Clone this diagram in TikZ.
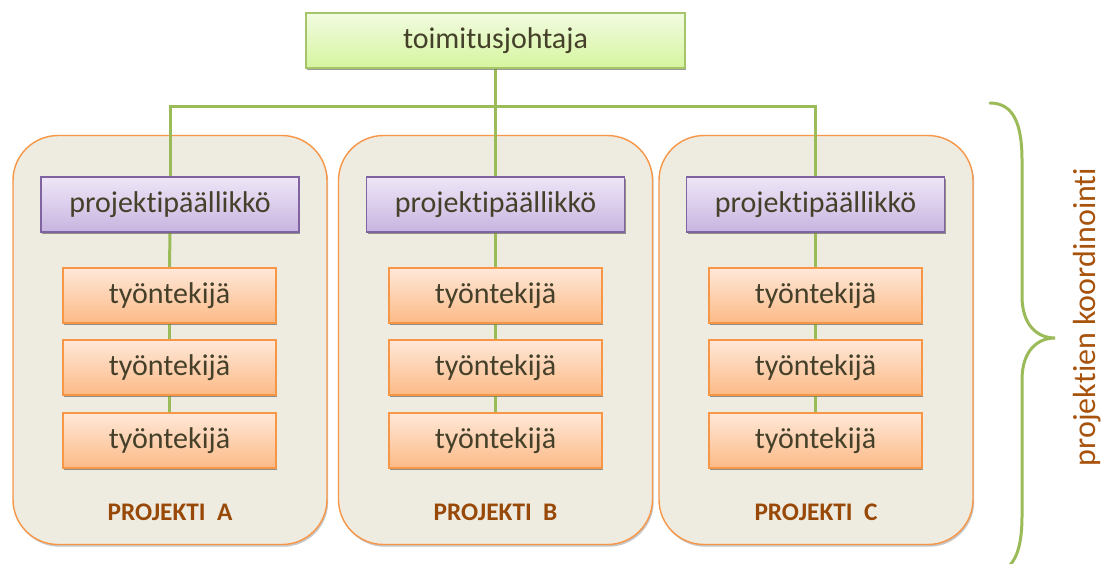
\documentclass[tikz,border=0pt]{standalone}
\usepackage{fontspec}
\setmainfont{Carlito}[Ligatures=NoCommon]
\usetikzlibrary{shadows}

\definecolor{txt}{HTML}{45402A}
\definecolor{linkgreen}{HTML}{9BBB59}
\definecolor{ceoborder}{HTML}{A6C46A}
\definecolor{ceotop}{HTML}{F1FBE1}
\definecolor{ceobot}{HTML}{D6F59E}
\definecolor{pmborder}{HTML}{8064A2}
\definecolor{pmtop}{HTML}{EEE6F7}
\definecolor{pmbot}{HTML}{C8B4E0}
\definecolor{wkborder}{HTML}{F79646}
\definecolor{wktop}{HTML}{FEE8D9}
\definecolor{wkbot}{HTML}{FCBA86}
\definecolor{panelfill}{HTML}{EEEBE1}
\definecolor{labelbrown}{HTML}{984807}
\definecolor{bracetext}{HTML}{A8530C}

\tikzset{
  softshadow/.style={drop shadow={shadow xshift=1.2pt, shadow yshift=-2.2pt,
      opacity=0.22, fill=black}},
  ceobox/.style={draw=ceoborder, line width=1.2pt, top color=ceotop,
      bottom color=ceobot, minimum width=379pt, minimum height=55pt,
      inner sep=0pt, text=txt, font=\fontsize{30}{32}\selectfont, softshadow},
  pmbox/.style={draw=pmborder, line width=1.2pt, top color=pmtop,
      bottom color=pmbot, minimum width=258pt, minimum height=55pt,
      inner sep=0pt, text=txt, font=\fontsize{30}{32}\selectfont, softshadow},
  workerbox/.style={draw=wkborder, line width=1.2pt, top color=wktop,
      bottom color=wkbot, minimum width=213pt, minimum height=55pt,
      inner sep=0pt, text=txt, font=\fontsize{30}{32}\selectfont, softshadow},
  panel/.style={draw=wkborder, line width=1.4pt, fill=panelfill,
      rounded corners=45pt, minimum width=314pt, minimum height=409pt,
      inner sep=0pt, softshadow},
  panellabel/.style={text=labelbrown, font=\fontsize{25.3}{28}\selectfont\bfseries},
  link/.style={draw=linkgreen, line width=3pt},
}

\begin{document}
\begin{tikzpicture}[x=1pt, y=-1pt]
  \useasboundingbox (0,0) rectangle (1106,563);

  % project panels
  \node[panel] (panA) at (170,340) {};
  \node[panel] (panB) at (495.5,340) {};
  \node[panel] (panC) at (816,340) {};

  % panel captions
  \node[panellabel] (labA) at (170,512) {PROJEKTI\ \ A};
  \node[panellabel] (labB) at (495.5,512) {PROJEKTI\ \ B};
  \node[panellabel] (labC) at (816,512) {PROJEKTI\ \ C};

  % boxes (placed first so links can refer to them, drawn on top afterwards)
  \path
    node[ceobox] (ceo) at (495.5,40.5) {toimitusjohtaja}
    node[pmbox] (pmA) at (170,204.5) {projektipäällikkö}
    node[pmbox] (pmB) at (495.5,204.5) {projektipäällikkö}
    node[pmbox] (pmC) at (815.5,204.5) {projektipäällikkö};
  \foreach \col/\x in {A/169.5, B/495.5, C/815.5} {
    \node[workerbox] (w\col1) at (\x,295.5) {työntekijä};
    \node[workerbox] (w\col2) at (\x,367.5) {työntekijä};
    \node[workerbox] (w\col3) at (\x,440.5) {työntekijä};
  }

  % organisation links
  \coordinate (bus) at (495.5,106);
  \draw[link] (ceo.south) -- (bus);
  \draw[link] (pmA.north) |- (bus) -| (pmC.north);
  \draw[link] (bus) -- (pmB.north);
  \foreach \col in {A,B,C} {
    \draw[link] (pm\col.south) -- (w\col1.north);
    \draw[link] (w\col1.south) -- (w\col2.north);
    \draw[link] (w\col2.south) -- (w\col3.north);
  }

  % redraw boxes above the links
  \path
    node[ceobox] at (ceo) {toimitusjohtaja}
    node[pmbox] at (pmA) {projektipäällikkö}
    node[pmbox] at (pmB) {projektipäällikkö}
    node[pmbox] at (pmC) {projektipäällikkö};
  \foreach \col in {A,B,C} {
    \foreach \k in {1,2,3} {
      \node[workerbox] at (w\col\k) {työntekijä};
    }
  }

  % coordination brace
  \draw[link, line cap=round]
    (990,103) .. controls (1014,103) and (1022,125) .. (1022,160)
    -- (1022,296) .. controls (1022,326) and (1038,338) .. (1055,338)
    .. controls (1038,338) and (1022,350) .. (1022,380)
    -- (1022,516) .. controls (1022,551) and (1014,573) .. (990,573);
  \node[text=bracetext, font=\fontsize{32}{34}\selectfont, rotate=90]
    (coord) at (1087,317) {projektien koordinointi};
\end{tikzpicture}
\end{document}
